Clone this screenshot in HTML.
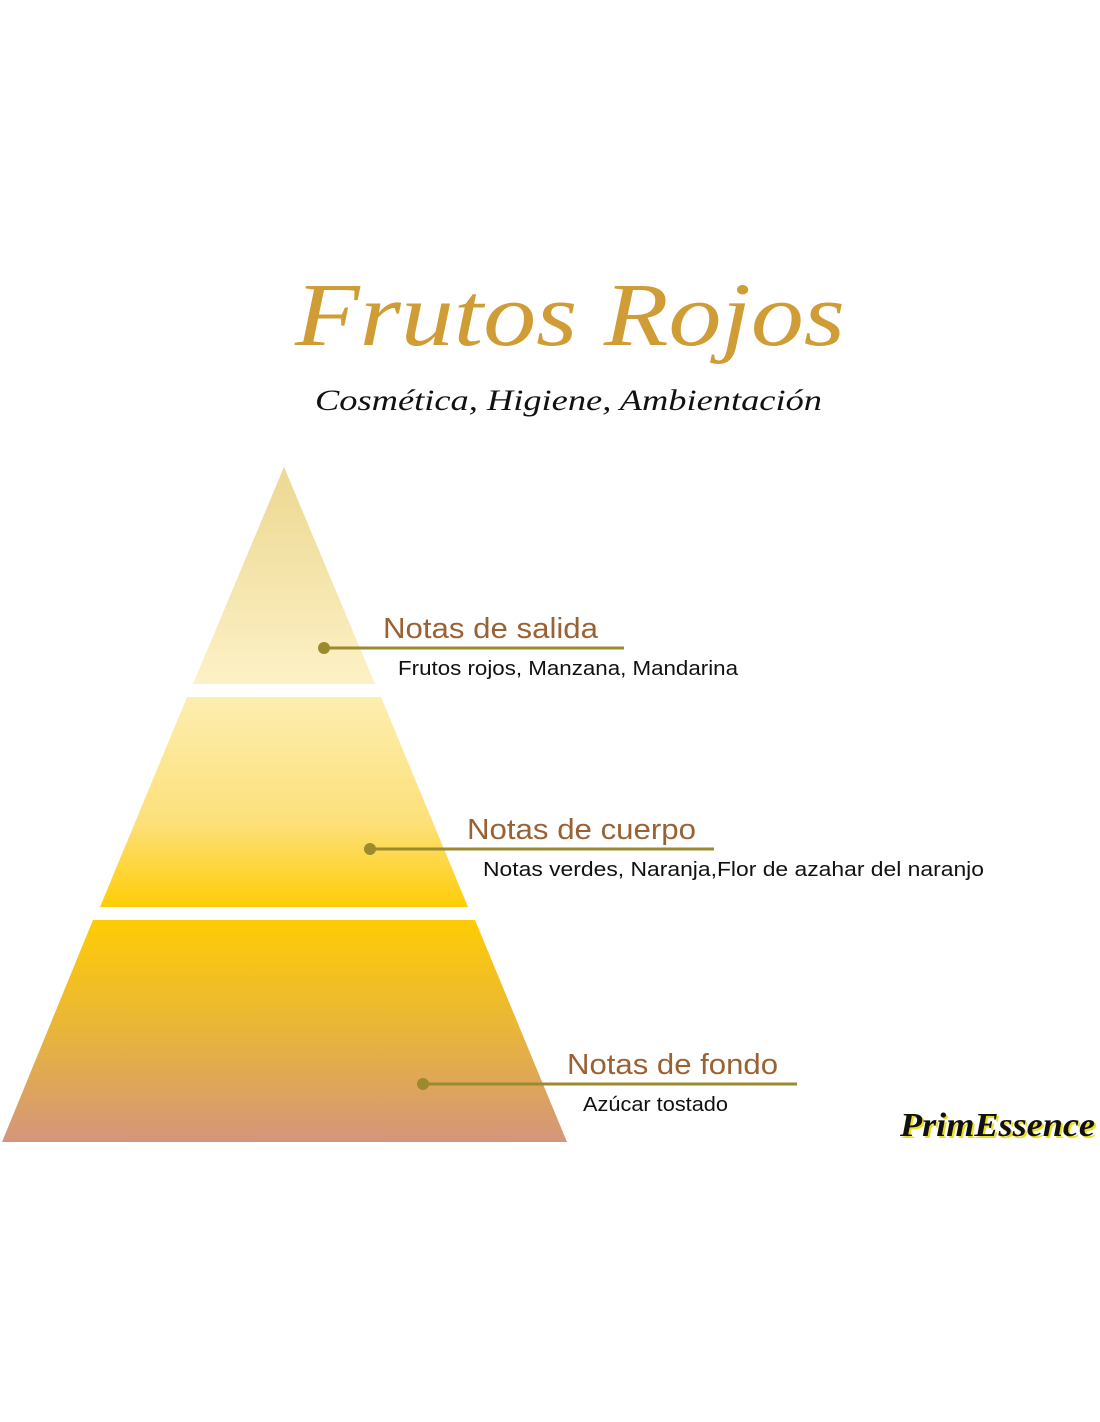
<!DOCTYPE html>
<html><head><meta charset="utf-8"><style>html,body{margin:0;padding:0;background:#fff}svg{display:block}</style></head>
<body>
<svg width="1100" height="1422" viewBox="0 0 1100 1422" xmlns="http://www.w3.org/2000/svg">
<defs>
<linearGradient id="g1" x1="0" y1="0" x2="0" y2="1"><stop offset="0" stop-color="#ecd891"/><stop offset="1" stop-color="#fdf1c6"/></linearGradient>
<linearGradient id="g2" x1="0" y1="0" x2="0" y2="1"><stop offset="0" stop-color="#fdeeb0"/><stop offset="0.6" stop-color="#fde07a"/><stop offset="1" stop-color="#fecd05"/></linearGradient>
<linearGradient id="g3" x1="0" y1="0" x2="0" y2="1"><stop offset="0" stop-color="#fecc05"/><stop offset="0.5" stop-color="#e8b53a"/><stop offset="1" stop-color="#d4957b"/></linearGradient>
</defs>
<text x="295" y="345" font-family="Liberation Serif, serif" font-style="italic" font-size="90" fill="#cf9c35" textLength="550" lengthAdjust="spacingAndGlyphs">Frutos Rojos</text>
<text x="315" y="410" font-family="Liberation Serif, serif" font-style="italic" font-size="30" fill="#111" textLength="507" lengthAdjust="spacingAndGlyphs">Cosmética, Higiene, Ambientación</text>
<polygon points="284,467 375,684 193,684" fill="url(#g1)"/>
<polygon points="187,697 381,697 468,907 100,907" fill="url(#g2)"/>
<polygon points="93,920 475,920 567,1142 2,1142" fill="url(#g3)"/>
<g font-family="Liberation Sans, sans-serif">
<text x="383" y="638" font-size="29" fill="#9a6232" textLength="215" lengthAdjust="spacingAndGlyphs">Notas de salida</text>
<line x1="324" y1="648" x2="624" y2="648" stroke="#9b8a2e" stroke-width="3"/>
<circle cx="324" cy="648" r="6" fill="#9b8a2e"/>
<text x="398" y="675" font-size="20" fill="#111" textLength="340" lengthAdjust="spacingAndGlyphs">Frutos rojos, Manzana, Mandarina</text>
<text x="467" y="839" font-size="29" fill="#9a6232" textLength="229" lengthAdjust="spacingAndGlyphs">Notas de cuerpo</text>
<line x1="370" y1="849" x2="714" y2="849" stroke="#9b8a2e" stroke-width="3"/>
<circle cx="370" cy="849" r="6" fill="#9b8a2e"/>
<text x="483" y="876" font-size="20" fill="#111" textLength="501" lengthAdjust="spacingAndGlyphs">Notas verdes, Naranja,Flor de azahar del naranjo</text>
<text x="567" y="1074" font-size="29" fill="#9a6232" textLength="211" lengthAdjust="spacingAndGlyphs">Notas de fondo</text>
<line x1="423" y1="1084" x2="797" y2="1084" stroke="#9b8a2e" stroke-width="3"/>
<circle cx="423" cy="1084" r="6" fill="#9b8a2e"/>
<text x="583" y="1111" font-size="20" fill="#111" textLength="145" lengthAdjust="spacingAndGlyphs">Azúcar tostado</text>
</g>
<text x="902" y="1138" font-family="Liberation Serif, serif" font-style="italic" font-weight="bold" font-size="34" fill="#e8e020" textLength="195" lengthAdjust="spacingAndGlyphs">PrimEssence</text>
<text x="900" y="1136" font-family="Liberation Serif, serif" font-style="italic" font-weight="bold" font-size="34" fill="#111" textLength="195" lengthAdjust="spacingAndGlyphs">PrimEssence</text>
</svg>
</body></html>
